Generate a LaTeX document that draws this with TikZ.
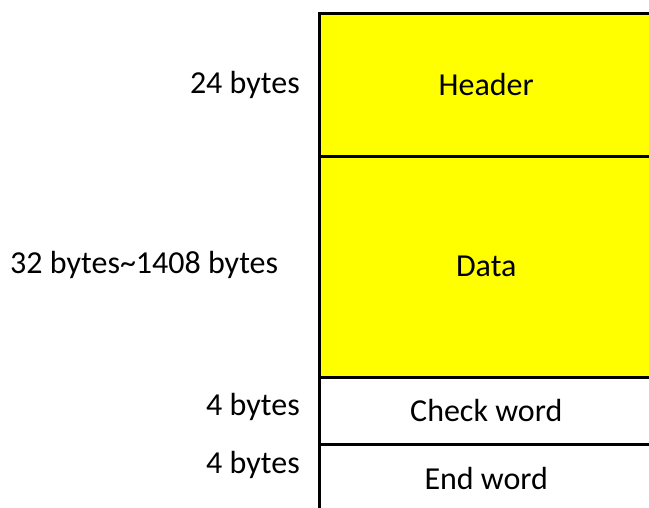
\documentclass[tikz,border=0pt]{standalone}
\usepackage{fontspec}
\setmainfont{Carlito}
\definecolor{fieldyellow}{RGB}{255,255,0}
\begin{document}
\begin{tikzpicture}[x=1pt,y=-1pt,
  field/.style={draw=black,line width=2.5pt,minimum width=334pt,inner sep=0pt,
    anchor=north west,font=\fontsize{32}{38}\selectfont},
  sizelabel/.style={font=\fontsize{32}{38}\selectfont,inner sep=0pt}]
\useasboundingbox (0,0) rectangle (649,507);
\clip (0,0) rectangle (649,507);
\node[field,fill=fieldyellow,minimum height=143pt] (header) at (318,12) {Header};
\node[field,fill=fieldyellow,minimum height=221pt] (data) at (318,155) {Data};
\node[field,fill=white,minimum height=67pt] (check) at (318,376) {Check word};
\node[field,fill=white,minimum height=69pt] (end) at (318,443) {End word};
\node[sizelabel,anchor=base east] (l1) at (300,93) {24 bytes};
\node[sizelabel,anchor=base west] (l2) at (10,273) {32 bytes\textasciitilde 1408 bytes};
\node[sizelabel,anchor=base east] (l3) at (300,415) {4 bytes};
\node[sizelabel,anchor=base east] (l4) at (300,473) {4 bytes};
\end{tikzpicture}
\end{document}
